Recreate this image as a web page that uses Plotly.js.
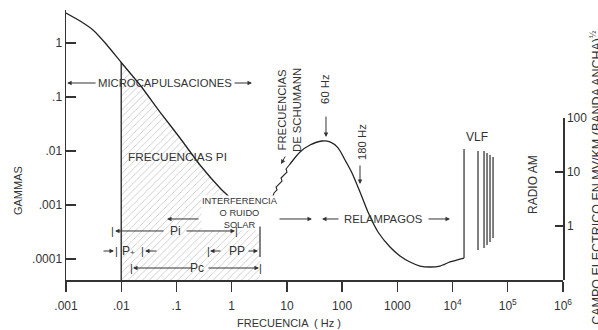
<!DOCTYPE html>
<html><head><meta charset="utf-8">
<script src="https://cdn.plot.ly/plotly-3.0.1.min.js"></script>
<style>html,body{margin:0;padding:0;background:#fff}#chart{width:598px;height:330px}</style>
</head><body><div id="chart"></div>
<script>
// ---- tick labels ----
const xTickVals = [0.001, 0.01, 0.1, 1, 10, 100, 1000, 1e4, 1e5, 1e6];
const xTickText = ['.001', '.01', '.1', '1', '10', '100', '1000', '10<sup>4</sup>', '10<sup>5</sup>', '10<sup>6</sup>'];
const yTickVals = [0.0001, 0.001, 0.01, 0.1, 1];
const yTickText = ['.0001', '.001', '.01', '.1', '1'];
const y2TickVals = [1, 10, 100];
const y2TickText = ['1', '10', '100'];

// ---- micropulsation spectrum (gammas vs Hz) ----
const microFreq   = [0.001, 0.0018, 0.00308, 0.00552, 0.01, 0.0219, 0.0504, 0.116, 0.267, 0.615, 1.25];
const microGammas = [3.59, 2.55, 1.74, 0.918, 0.4355, 0.1668, 0.0527, 0.0174, 0.0055, 0.00207, 0.00104];
const piStartIndex = 4; // .01 Hz, where the Pi band begins
// Pi band (hatched) upper-right corner and floor
const piBandEndFreq = 3.26;
const piBandEndGamma = 0.000484;
const floorGamma = 4.1e-5;

// ---- Schumann resonances (jagged) ----
const schumannFreq   = [4.94, 5.85, 6.63, 6.36, 7.51, 8.17, 7.83, 9.25, 10.05, 9.64, 11.4];
const schumannGammas = [0.00104, 0.00167, 0.0019, 0.00215, 0.00255, 0.00278, 0.00316, 0.00375, 0.00408, 0.00464, 0.00574];

// ---- lightning (relampagos) spectrum ----
const lightningFreq   = [11.4, 17.3, 26.2, 43.3, 60.4, 84.4, 113, 151, 211, 294, 447, 737, 1117, 1698, 2576, 3908, 5929, 8995, 16140];
const lightningGammas = [0.00574, 0.00957, 0.0129, 0.0153, 0.0147, 0.0114, 0.0068, 0.00392, 0.00174, 0.00074, 0.000316, 0.000167, 0.000114, 0.000088, 0.0000741, 0.0000711, 0.0000741, 0.000088, 0.000104];
const vlfEdgeTopGamma = 0.0109;

// ---- VLF / radio lines (right axis, field strength) ----
const vlfFreq   = [28900, 37150, 42100, 47700, 54100];
const vlfTop    = [24.5, 24.5, 22.5, 20.7, 19.0];
const vlfBottom = [0.36, 0.39, 0.445, 0.506, 0.60];

const F = 'Liberation Sans, Arial, Helvetica, sans-serif';
const TXT = '#333';
const AX = '#333';
const CURVE = '#222';

// build traces
const hatchX = [microFreq[piStartIndex], ...microFreq.slice(piStartIndex), piBandEndFreq, piBandEndFreq];
const hatchY = [floorGamma, ...microGammas.slice(piStartIndex), piBandEndGamma, floorGamma];

const vx = [], vy = [];
vlfFreq.forEach((f, i) => { vx.push(f, f, null); vy.push(vlfBottom[i], vlfTop[i], null); });

const lastL = lightningFreq.length - 1;
const traces = [
  {x: hatchX, y: hatchY, type: 'scatter', mode: 'lines', fill: 'toself',
   line: {width: 0, color: 'rgba(0,0,0,0)'},
   fillcolor: 'rgba(0,0,0,0)',
   fillpattern: {shape: '/', size: 5, solidity: 0.1, fgcolor: '#a0a0a0', bgcolor: 'rgba(255,255,255,0)', fillmode: 'replace'},
   xaxis: 'x', yaxis: 'y'},
  {x: [microFreq[piStartIndex], microFreq[piStartIndex]], y: [floorGamma, microGammas[piStartIndex]], type: 'scatter', mode: 'lines',
   line: {color: CURVE, width: 1.3}, xaxis: 'x', yaxis: 'y'},
  {x: microFreq, y: microGammas, type: 'scatter', mode: 'lines',
   line: {color: CURVE, width: 1.3, shape: 'spline', smoothing: 0.5}, xaxis: 'x', yaxis: 'y'},
  {x: schumannFreq, y: schumannGammas, type: 'scatter', mode: 'lines',
   line: {color: CURVE, width: 1.1}, xaxis: 'x', yaxis: 'y'},
  {x: lightningFreq, y: lightningGammas, type: 'scatter', mode: 'lines',
   line: {color: CURVE, width: 1.3, shape: 'spline', smoothing: 0.7}, xaxis: 'x', yaxis: 'y'},
  {x: [lightningFreq[lastL], lightningFreq[lastL]],
   y: [lightningGammas[lastL], vlfEdgeTopGamma], type: 'scatter', mode: 'lines',
   line: {color: '#555', width: 1.5}, xaxis: 'x', yaxis: 'y'},
  {x: vx, y: vy, type: 'scatter', mode: 'lines', connectgaps: false,
   line: {color: '#555', width: 1.5}, xaxis: 'x', yaxis: 'y2'}
];

const baseFont = (s) => ({family: F, size: s || 11, color: TXT});
const T = (text, x, y, o) => Object.assign({text, x, y, xref: 'x', yref: 'y', showarrow: false,
  xanchor: 'center', yanchor: 'middle', font: baseFont(11)}, o || {});
const AR = (x, y, ax, ay) => ({text: '', x, y, ax, ay, xref: 'x', yref: 'y', showarrow: true,
  arrowhead: 2, arrowsize: 0.9, arrowwidth: 1, arrowcolor: TXT, standoff: 0, startstandoff: 0});
const LN = (x, y, ax, ay) => ({text: '', x, y, ax, ay, xref: 'x', yref: 'y', showarrow: true,
  arrowhead: 0, arrowwidth: 1.2, arrowcolor: TXT, standoff: 0, startstandoff: 0});

const annotations = [
  T('MICROCAPULSACIONES', -1.207, -0.741, {font: baseFont(11.3)}),
  AR(-2.98, -0.741, 30, 0),
  AR(0.368, -0.741, -19, 0),
  T('FRECUENCIAS PI', -0.972, -2.111, {font: baseFont(11.8)}),
  T('FRECUENCIAS<br>DE SCHUMANN', 1.038, -1.241, {textangle: -90, font: baseFont(11.3)}),
  AR(0.894, -2.241, 5, -9),
  T('60 Hz', 1.690, -0.85, {textangle: -90, font: baseFont(11.3)}),
  AR(1.708, -1.741, 0, -22),
  T('180 Hz', 2.360, -1.833, {textangle: -90, font: baseFont(11.3)}),
  AR(2.324, -2.611, 0, -20),
  T('INTERFERENCIA<br>O RUIDO<br>SOLAR', 0.151, -3.148, {font: baseFont(9.3), bgcolor: '#fff', borderpad: 0}),
  // row: relampagos
  AR(-1.171, -3.259, 33, 0),
  AR(1.455, -3.259, -34, 0),
  AR(1.636, -3.259, 18, 0),
  T('RELAMPAGOS', 2.741, -3.259, {font: baseFont(11.3)}),
  AR(3.954, -3.259, -23, 0),
  // row: Pi
  T('|', -2.167, -3.481),
  AR(-2.113, -3.481, 50, 0),
  T('Pi', -1.026, -3.481, {font: baseFont(12)}),
  AR(0.060, -3.481, -50, 0),
  T('|', 0.079, -3.481),
  // row: P+ and PP
  AR(-2.131, -3.852, -12, 0),
  T('|', -2.094, -3.852),
  T('P<span style="font-size:8px">+</span>', -1.877, -3.852, {font: baseFont(12)}),
  T('|', -1.606, -3.852),
  AR(-1.569, -3.852, 13, 0),
  T('|', -0.428, -3.852),
  AR(-0.392, -3.852, 12, 0),
  T('PP', 0.097, -3.852, {font: baseFont(12)}),
  AR(0.477, -3.852, -11, 0),
  LN(0.513, -3.963, 0, -32),
  // row: Pc
  T('|', -1.823, -4.167),
  AR(-1.787, -4.167, 60, 0),
  T('Pc', -0.628, -4.167, {font: baseFont(12)}),
  AR(0.495, -4.167, -52, 0),
  T('|', 0.513, -4.167),
  // right side
  T('VLF', 4.443, -1.741, {font: baseFont(12)}),
  T('RADIO AM', 5.457, -2.63, {textangle: -90, font: baseFont(12)}),
  // axis titles
  {text: 'GAMMAS', x: -0.0966, y: 0.333, xref: 'paper', yref: 'paper', showarrow: false, textangle: -90,
   xanchor: 'center', yanchor: 'middle', font: baseFont(11)},
  {text: 'FRECUENCIA  ( Hz )', x: 0.449, y: -0.159, xref: 'paper', yref: 'paper', showarrow: false,
   xanchor: 'center', yanchor: 'middle', font: baseFont(11)},
  {text: 'CAMPO ELECTRICO EN MV/KM (BANDA ANCHA)<sup>½</sup>', x: 1.066, y: 0.935, xref: 'paper', yref: 'paper',
   showarrow: false, textangle: -90, xanchor: 'center', yanchor: 'top', font: baseFont(12.5)}
];

const layout = {
  width: 598, height: 330,
  margin: {l: 66, r: 35, t: 10, b: 50},
  paper_bgcolor: '#fff', plot_bgcolor: 'rgba(0,0,0,0)',
  showlegend: false, hovermode: false,
  font: {family: F, color: TXT, size: 12},
  xaxis: {type: 'log', range: [-3, 6], tickvals: xTickVals, ticktext: xTickText,
    ticks: 'outside', ticklen: 10, tickwidth: 1.3, tickcolor: AX,
    showline: true, linecolor: AX, linewidth: 1.5, showgrid: false, zeroline: false,
    tickfont: {family: F, size: 12, color: TXT}, ticklabelstandoff: 4, anchor: 'y'},
  yaxis: {type: 'log', range: [-4.389, 0.611], tickvals: yTickVals, ticktext: yTickText,
    ticks: 'inside', ticklen: 10, tickwidth: 1.3, tickcolor: AX,
    showline: true, linecolor: AX, linewidth: 1.5, showgrid: false, zeroline: false,
    tickfont: {family: F, size: 12, color: TXT}, domain: [0, 1]},
  yaxis2: {type: 'log', range: [-1, 2], domain: [0, 0.6], anchor: 'x', side: 'right',
    tickvals: y2TickVals, ticktext: y2TickText,
    ticks: 'inside', ticklen: 8, tickwidth: 1.3, tickcolor: AX,
    showline: true, linecolor: AX, linewidth: 1.5, showgrid: false, zeroline: false,
    tickfont: {family: F, size: 12, color: TXT}},
  annotations: annotations
};

Plotly.newPlot('chart', traces, layout, {staticPlot: true, displayModeBar: false});
</script>
</body></html>
